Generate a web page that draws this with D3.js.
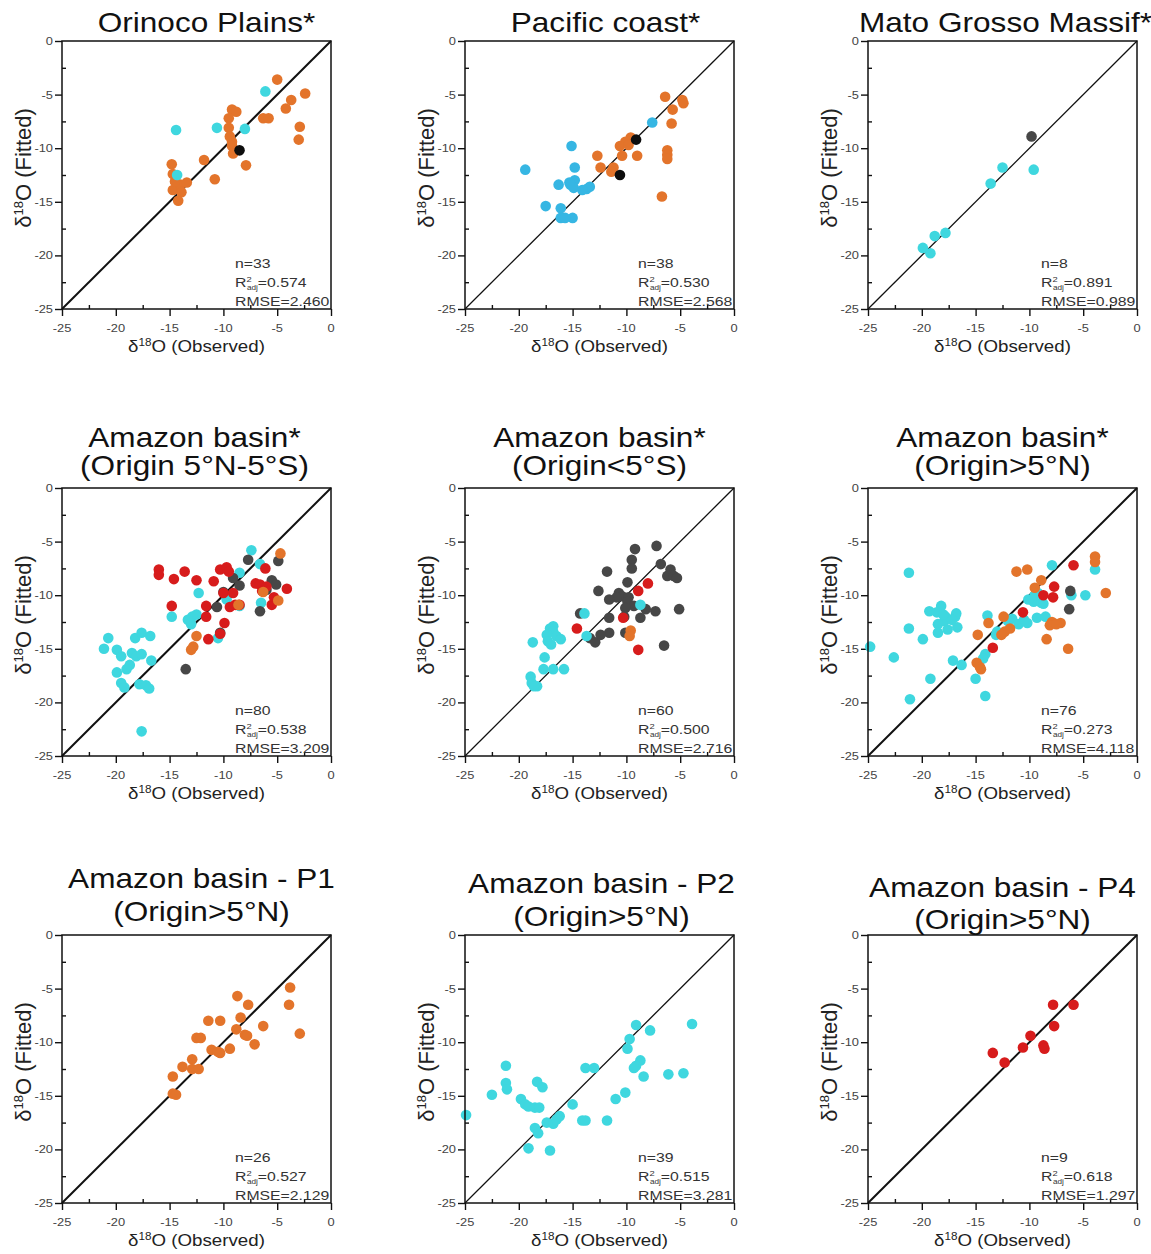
<!DOCTYPE html>
<html lang="en">
<head>
<meta charset="UTF-8" />
<title>d18O fitted vs observed</title>
<script src="https://d3js.org/d3.v7.min.js"></script>
<style>
    body { margin: 0; background: #fff; font-family: "Liberation Sans", Arial, sans-serif; }
    svg { display: block; }
</style>
</head>
<body>
<svg id="chart" width="1151" height="1254"></svg>
<script>
// point groups: o orange, c cyan, b blue, r red, g dark grey, k black
const orinoco = [
    [-5.0, -3.6, "o"], [-2.4, -4.9, "o"], [-3.7, -5.5, "o"], [-4.2, -6.3, "o"], [-6.3, -7.2, "o"],
    [-5.8, -7.2, "o"], [-2.9, -8.0, "o"], [-3.0, -9.2, "o"], [-7.9, -11.6, "o"],
    [-9.2, -6.4, "o"], [-8.8, -6.6, "o"], [-9.5, -7.2, "o"], [-9.5, -8.1, "o"], [-9.4, -8.9, "o"],
    [-9.2, -9.4, "o"], [-9.2, -9.8, "o"], [-9.1, -10.5, "o"], [-11.8, -11.1, "o"], [-10.8, -12.9, "o"],
    [-14.8, -11.5, "o"], [-14.7, -12.4, "o"], [-14.7, -13.9, "o"], [-14.0, -13.4, "o"], [-13.4, -13.2, "o"],
    [-13.9, -14.1, "o"], [-14.2, -14.9, "o"], [-14.5, -13.1, "o"],
    [-6.1, -4.7, "c"], [-8.0, -8.2, "c"], [-10.6, -8.1, "c"], [-14.4, -8.3, "c"], [-14.3, -12.5, "c"],
    [-8.5, -10.2, "k"]
];
const pacific = [
    [-6.4, -5.2, "o"], [-4.8, -5.5, "o"], [-4.7, -5.8, "o"], [-5.7, -6.4, "o"], [-5.8, -7.7, "o"],
    [-9.6, -9.0, "o"], [-10.1, -9.4, "o"], [-10.6, -9.8, "o"], [-9.8, -9.7, "o"], [-10.4, -10.7, "o"],
    [-9.0, -10.7, "o"], [-12.7, -10.7, "o"], [-12.4, -11.8, "o"], [-11.2, -11.8, "o"], [-11.4, -12.2, "o"],
    [-6.2, -10.2, "o"], [-6.2, -10.6, "o"], [-6.2, -11.0, "o"], [-6.7, -14.5, "o"],
    [-9.1, -9.2, "k"], [-10.6, -12.5, "k"],
    [-7.6, -7.6, "b"], [-15.1, -9.8, "b"], [-14.8, -11.8, "b"], [-19.4, -12.0, "b"], [-14.8, -13.0, "b"],
    [-15.2, -13.4, "b"], [-14.9, -13.7, "b"], [-13.7, -13.8, "b"], [-13.4, -13.6, "b"], [-14.1, -13.9, "b"],
    [-16.3, -13.4, "b"], [-17.5, -15.4, "b"], [-16.1, -16.5, "b"], [-15.0, -16.5, "b"], [-15.7, -16.5, "b"],
    [-16.1, -15.6, "b"], [-15.3, -13.2, "b"]
];
const matoGrosso = [
    [-9.8, -8.9, "g"], [-9.6, -12.0, "c"], [-12.5, -11.8, "c"], [-13.6, -13.3, "c"],
    [-17.8, -17.9, "c"], [-18.8, -18.2, "c"], [-19.9, -19.3, "c"], [-19.2, -19.8, "c"]
];
const amazonEq = [
    [-7.4, -5.8, "c"], [-6.6, -7.1, "c"], [-8.5, -7.9, "c"], [-8.5, -11.0, "c"], [-6.5, -10.7, "c"],
    [-9.7, -10.4, "c"], [-12.3, -9.8, "c"], [-14.8, -12.0, "c"], [-12.9, -12.0, "c"], [-12.5, -11.8, "c"],
    [-13.0, -12.7, "c"], [-13.3, -12.3, "c"], [-10.5, -14.0, "c"], [-20.7, -14.0, "c"], [-21.1, -15.0, "c"],
    [-19.9, -15.1, "c"], [-19.5, -15.7, "c"], [-18.5, -15.4, "c"], [-18.1, -15.7, "c"], [-17.6, -15.5, "c"],
    [-18.2, -14.0, "c"], [-17.6, -13.5, "c"], [-16.8, -13.8, "c"], [-16.7, -16.1, "c"], [-19.9, -17.2, "c"],
    [-19.0, -16.9, "c"], [-18.7, -16.5, "c"], [-19.5, -18.2, "c"], [-19.2, -18.6, "c"], [-17.8, -18.3, "c"],
    [-17.2, -18.4, "c"], [-16.9, -18.7, "c"], [-17.6, -22.7, "c"],
    [-7.7, -6.7, "g"], [-4.9, -6.8, "g"], [-8.5, -9.1, "g"], [-9.1, -8.4, "g"], [-10.0, -9.7, "g"],
    [-10.6, -11.1, "g"], [-10.3, -13.5, "g"], [-6.6, -11.5, "g"], [-5.5, -8.6, "g"], [-5.1, -9.0, "g"],
    [-13.5, -16.9, "g"], [-6.0, -9.5, "g"],
    [-16.0, -7.6, "r"], [-16.0, -8.1, "r"], [-14.6, -8.5, "r"], [-13.6, -7.8, "r"], [-12.5, -8.6, "r"],
    [-10.9, -8.7, "r"], [-10.3, -7.6, "r"], [-9.7, -7.4, "r"], [-9.5, -7.8, "r"], [-10.0, -9.8, "r"],
    [-14.8, -11.0, "r"], [-11.6, -11.0, "r"], [-11.6, -12.0, "r"], [-11.4, -14.1, "r"], [-9.9, -12.6, "r"],
    [-10.3, -13.6, "r"], [-9.4, -11.1, "r"], [-8.9, -10.9, "r"], [-8.5, -10.9, "r"], [-9.1, -9.8, "r"],
    [-7.0, -8.9, "r"], [-6.6, -9.0, "r"], [-6.0, -9.2, "r"], [-6.1, -7.5, "r"], [-5.5, -10.9, "r"],
    [-4.1, -9.4, "r"], [-6.4, -9.6, "r"], [-5.3, -10.2, "r"],
    [-4.7, -6.1, "o"], [-4.9, -10.5, "o"], [-6.3, -9.7, "o"], [-12.5, -13.8, "o"], [-12.8, -14.8, "o"],
    [-13.0, -15.1, "o"], [-8.6, -10.9, "o"]
];
const amazonSouth = [
    [-7.2, -5.4, "g"], [-9.2, -5.7, "g"], [-9.5, -6.7, "g"], [-9.5, -7.5, "g"], [-11.8, -7.8, "g"],
    [-6.8, -7.1, "g"], [-5.9, -7.6, "g"], [-6.2, -8.2, "g"], [-5.6, -8.2, "g"], [-5.3, -8.4, "g"],
    [-9.9, -8.8, "g"], [-12.6, -9.6, "g"], [-10.7, -9.8, "g"], [-10.4, -10.1, "g"], [-10.9, -10.2, "g"],
    [-9.8, -10.2, "g"], [-11.6, -10.4, "g"], [-9.9, -10.6, "g"], [-9.3, -11.0, "g"], [-10.1, -11.2, "g"],
    [-10.2, -12.0, "g"], [-8.2, -11.3, "g"], [-7.3, -11.5, "g"], [-5.1, -11.3, "g"], [-8.7, -12.1, "g"],
    [-11.6, -12.1, "g"], [-14.3, -11.7, "g"], [-11.6, -13.5, "g"], [-13.4, -14.0, "g"], [-12.9, -14.4, "g"],
    [-12.4, -13.7, "g"], [-10.1, -13.5, "g"], [-6.5, -14.7, "g"],
    [-8.0, -8.9, "r"], [-8.9, -9.6, "r"], [-10.3, -12.1, "r"], [-14.6, -13.1, "r"], [-8.9, -15.1, "r"],
    [-9.6, -13.3, "o"], [-9.7, -13.8, "o"],
    [-8.7, -10.9, "c"], [-13.9, -11.7, "c"], [-16.8, -12.9, "c"], [-17.1, -13.1, "c"], [-16.8, -13.4, "c"],
    [-17.4, -13.7, "c"], [-16.5, -13.8, "c"], [-17.3, -14.3, "c"], [-17.0, -14.6, "c"], [-16.1, -14.1, "c"],
    [-18.7, -14.4, "c"], [-17.6, -15.8, "c"], [-17.7, -16.9, "c"], [-16.8, -16.9, "c"], [-15.8, -16.9, "c"],
    [-18.9, -17.6, "c"], [-18.8, -18.2, "c"], [-18.3, -18.5, "c"], [-18.6, -18.5, "c"], [-13.7, -13.8, "c"]
];
const amazonNorth = [
    [-21.2, -7.9, "c"], [-7.9, -7.2, "c"], [-3.9, -7.6, "c"], [-6.1, -10.0, "c"], [-4.8, -10.0, "c"],
    [-9.2, -9.8, "c"], [-9.6, -10.6, "c"], [-8.9, -10.7, "c"], [-18.2, -11.0, "c"], [-19.3, -11.5, "c"],
    [-18.6, -11.6, "c"], [-17.8, -12.0, "c"], [-17.9, -12.4, "c"], [-16.9, -12.0, "c"], [-16.8, -11.7, "c"],
    [-18.5, -12.7, "c"], [-18.5, -13.5, "c"], [-17.6, -13.2, "c"], [-16.7, -13.0, "c"], [-21.2, -13.1, "c"],
    [-19.9, -14.1, "c"], [-24.8, -14.8, "c"], [-22.6, -15.8, "c"], [-17.1, -16.1, "c"], [-16.3, -16.5, "c"],
    [-19.2, -17.8, "c"], [-21.1, -19.7, "c"], [-13.9, -11.9, "c"], [-14.1, -15.5, "c"], [-14.3, -15.9, "c"],
    [-15.0, -17.8, "c"], [-14.1, -19.4, "c"], [-13.0, -13.4, "c"], [-11.6, -12.2, "c"], [-11.0, -12.7, "c"],
    [-10.2, -12.6, "c"], [-9.3, -12.1, "c"], [-8.5, -12.0, "c"], [-10.1, -10.4, "c"], [-9.5, -10.0, "c"],
    [-8.7, -10.8, "c"], [-12.0, -12.4, "c"], [-10.5, -12.3, "c"], [-17.2, -12.3, "c"], [-18.0, -11.8, "c"],
    [-13.1, -13.7, "c"],
    [-3.9, -6.4, "o"], [-3.9, -6.9, "o"], [-2.9, -9.8, "o"], [-10.2, -7.6, "o"], [-11.2, -7.8, "o"],
    [-8.9, -8.6, "o"], [-9.5, -9.3, "o"], [-12.4, -12.0, "o"], [-12.3, -13.4, "o"], [-11.8, -13.1, "o"],
    [-12.6, -13.7, "o"], [-13.8, -12.6, "o"], [-14.8, -13.7, "o"], [-14.9, -16.3, "o"], [-14.6, -16.7, "o"],
    [-14.5, -16.9, "o"], [-7.9, -12.5, "o"], [-8.1, -12.8, "o"], [-7.1, -12.6, "o"], [-8.4, -14.1, "o"],
    [-6.4, -15.0, "o"], [-7.5, -12.7, "o"],
    [-5.9, -7.2, "r"], [-7.7, -9.2, "r"], [-8.7, -10.0, "r"], [-7.8, -10.2, "r"], [-10.6, -11.6, "r"],
    [-13.4, -14.9, "r"],
    [-6.2, -9.6, "g"], [-6.3, -11.3, "g"]
];
const periodP1 = [
    [-3.8, -4.9, "o"], [-3.9, -6.5, "o"], [-2.9, -9.2, "o"], [-8.7, -5.7, "o"], [-7.7, -6.5, "o"],
    [-8.4, -7.7, "o"], [-6.3, -8.5, "o"], [-8.8, -8.8, "o"], [-8.0, -9.3, "o"], [-7.8, -9.4, "o"],
    [-7.1, -10.2, "o"], [-11.4, -8.0, "o"], [-10.3, -8.0, "o"], [-12.5, -9.6, "o"], [-12.1, -9.6, "o"],
    [-11.1, -10.7, "o"], [-10.5, -10.9, "o"], [-10.3, -11.0, "o"], [-9.4, -10.6, "o"], [-12.9, -11.6, "o"],
    [-13.8, -12.3, "o"], [-12.9, -12.5, "o"], [-12.3, -12.5, "o"], [-14.7, -13.2, "o"], [-14.7, -14.8, "o"],
    [-14.4, -14.9, "o"]
];
const periodP2 = [
    [-3.9, -8.3, "c"], [-9.1, -8.4, "c"], [-7.8, -8.9, "c"], [-9.7, -9.7, "c"], [-9.9, -10.6, "c"],
    [-8.7, -11.7, "c"], [-9.1, -12.2, "c"], [-9.3, -12.4, "c"], [-8.4, -13.2, "c"], [-6.1, -13.0, "c"],
    [-4.7, -12.9, "c"], [-10.1, -14.7, "c"], [-11.0, -15.3, "c"], [-11.8, -17.3, "c"], [-13.8, -12.4, "c"],
    [-13.0, -12.4, "c"], [-15.0, -15.8, "c"], [-14.1, -17.3, "c"], [-13.8, -17.3, "c"], [-21.2, -12.2, "c"],
    [-21.2, -13.8, "c"], [-21.1, -14.4, "c"], [-22.5, -14.9, "c"], [-24.9, -16.8, "c"], [-19.8, -15.3, "c"],
    [-19.4, -15.8, "c"], [-19.1, -16.0, "c"], [-18.5, -16.1, "c"], [-18.1, -16.1, "c"], [-18.3, -13.7, "c"],
    [-17.8, -14.2, "c"], [-18.5, -18.0, "c"], [-18.2, -18.5, "c"], [-19.1, -19.9, "c"], [-17.1, -20.1, "c"],
    [-17.4, -17.5, "c"], [-16.8, -17.6, "c"], [-16.5, -17.2, "c"], [-16.2, -16.9, "c"]
];
const periodP4 = [
    [-5.9, -6.5, "r"], [-7.8, -6.5, "r"], [-7.7, -8.5, "r"], [-9.9, -9.4, "r"], [-10.6, -10.5, "r"],
    [-8.7, -10.3, "r"], [-8.6, -10.6, "r"], [-13.4, -11.0, "r"], [-12.3, -11.9, "r"]
];

const titles = [
    ["Orinoco Plains*"], ["Pacific coast*"], ["Mato Grosso Massif*"],
    ["Amazon basin*", "(Origin 5°N-5°S)"], ["Amazon basin*", "(Origin<5°S)"], ["Amazon basin*", "(Origin>5°N)"],
    ["Amazon basin - P1", "(Origin>5°N)"], ["Amazon basin - P2", "(Origin>5°N)"], ["Amazon basin - P4", "(Origin>5°N)"]
];
const nValues = [33, 38, 8, 80, 60, 76, 26, 39, 9];
const r2Values = ["0.574", "0.530", "0.891", "0.538", "0.500", "0.273", "0.527", "0.515", "0.618"];
const rmseValues = ["2.460", "2.568", "0.989", "3.209", "2.716", "4.118", "2.129", "3.281", "1.297"];
const datasets = [orinoco, pacific, matoGrosso, amazonEq, amazonSouth, amazonNorth, periodP1, periodP2, periodP4];
const majorTicks = [-25, -20, -15, -10, -5, 0];
const minorTicks = [-22.5, -17.5, -12.5, -7.5, -2.5];

// layout
const colLeft = [62, 465, 868];
const rowTop = [41, 488, 935];
const plotW = 269, plotH = 268;
const titleBase = [[-9], [-9], [-9], [-41, -13], [-41, -13], [-41, -13], [-47, -14], [-42, -9], [-38, -6]];
const titleShift = [10, 6, 3, -2, 0, 0, 5, 2, 0];
const diagWidth = [2, 1.3, 1.3, 2, 1.3, 2, 2, 1.3, 2];
const stretch = 1.17;

const colors = { o: "#e3742b", c: "#3fd7df", b: "#36b6e3", r: "#d71c1c", g: "#474747", k: "#0d0d0d" };

const svg = d3.select("#chart");

datasets.forEach((data, i) => {
    const left = colLeft[i % 3], top = rowTop[Math.floor(i / 3)];
    const g = svg.append("g").attr("transform", `translate(${left},${top})`);
    const x = d3.scaleLinear().domain([-25, 0]).range([0, plotW]);
    const y = d3.scaleLinear().domain([-25, 0]).range([plotH, 0]);

    // title lines
    titles[i].forEach((t, j) => {
        g.append("text")
            .attr("transform", `translate(${plotW / 2 + titleShift[i]},${titleBase[i][j]}) scale(${stretch},1)`)
            .attr("text-anchor", "middle")
            .attr("font-size", 27)
            .attr("fill", "#111")
            .text(t);
    });

    // major ticks outward
    const xMajor = d3.axisBottom(x).tickValues(majorTicks).tickSize(7).tickFormat("");
    const yMajor = d3.axisLeft(y).tickValues(majorTicks).tickSize(7).tickFormat("");
    g.append("g").attr("transform", `translate(0,${plotH})`).call(xMajor);
    g.append("g").call(yMajor);
    // minor ticks inward
    g.append("g").attr("transform", `translate(0,${plotH})`)
        .call(d3.axisTop(x).tickValues(minorTicks).tickSize(4).tickFormat(""));
    g.append("g").call(d3.axisRight(y).tickValues(minorTicks).tickSize(4).tickFormat(""));
    g.selectAll(".domain").remove();
    g.selectAll(".tick line").attr("stroke", "#111").attr("stroke-width", 1.4);

    // tick labels
    majorTicks.forEach(v => {
        g.append("text")
            .attr("transform", `translate(${x(v)},${plotH + 23}) scale(${stretch},1)`)
            .attr("text-anchor", "middle").attr("font-size", 11).attr("fill", "#444")
            .text(v);
        g.append("text")
            .attr("transform", `translate(-9,${y(v) + 4}) scale(${stretch},1)`)
            .attr("text-anchor", "end").attr("font-size", 11).attr("fill", "#444")
            .text(v);
    });

    // 1:1 line
    g.append("line")
        .attr("x1", x(-25)).attr("y1", y(-25)).attr("x2", x(0)).attr("y2", y(0))
        .attr("stroke", "#111").attr("stroke-width", diagWidth[i]);

    // points
    g.append("g").selectAll("circle").data(data).join("circle")
        .attr("cx", d => x(d[0]))
        .attr("cy", d => y(d[1]))
        .attr("r", 5.3)
        .attr("fill", d => colors[d[2]]);

    // frame
    g.append("rect").attr("width", plotW).attr("height", plotH)
        .attr("fill", "none").attr("stroke", "#111").attr("stroke-width", 1.5);

    // stats
    const st = g.append("g").attr("transform", `translate(173,0)`).attr("fill", "#333");
    st.append("text").attr("transform", `translate(0,${plotH - 41}) scale(${stretch},1)`)
        .attr("font-size", 13.5).text(`n=${nValues[i]}`);
    const r2 = st.append("text").attr("transform", `translate(0,${plotH - 22}) scale(${stretch},1)`)
        .attr("font-size", 13.5);
    r2.append("tspan").text("R");
    r2.append("tspan").attr("font-size", 8).attr("dy", -5).text("2");
    r2.append("tspan").attr("font-size", 7).attr("dy", 8).attr("dx", -4).text("adj");
    r2.append("tspan").attr("dy", -3).text(`=${r2Values[i]}`);
    st.append("text").attr("transform", `translate(0,${plotH - 3}) scale(${stretch},1)`)
        .attr("font-size", 13.5).text(`RMSE=${rmseValues[i]}`);

    // axis titles
    const xl = g.append("text")
        .attr("transform", `translate(${plotW / 2},${plotH + 43}) scale(${stretch},1)`)
        .attr("text-anchor", "middle").attr("font-size", 16).attr("fill", "#222");
    xl.append("tspan").text("δ");
    xl.append("tspan").attr("font-size", 10).attr("dy", -6).text("18");
    xl.append("tspan").attr("dy", 6).text("O (Observed)");

    const yl = g.append("text")
        .attr("transform", `translate(-31,${plotH / 2 - 7}) rotate(-90)`)
        .attr("text-anchor", "middle").attr("font-size", 22).attr("fill", "#222");
    yl.append("tspan").text("δ");
    yl.append("tspan").attr("font-size", 13).attr("dy", -8).text("18");
    yl.append("tspan").attr("dy", 8).text("O (Fitted)");
});
</script>
</body>
</html>
